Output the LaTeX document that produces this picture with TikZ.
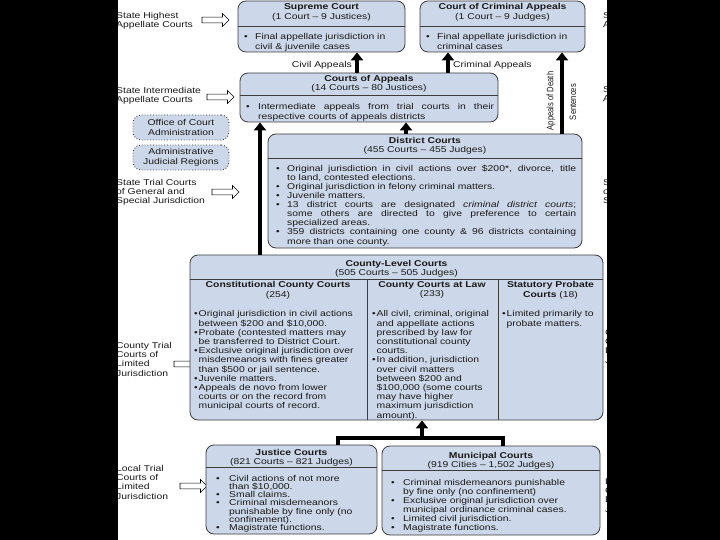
\documentclass[tikz,border=0pt]{standalone}
\usepackage{fontspec}
\setmainfont[FakeStretch=1.22]{Liberation Sans}
\newfontfamily\rotfont[FakeStretch=0.82]{Liberation Sans}
\usetikzlibrary{arrows.meta,shapes.arrows}
\definecolor{boxfill}{RGB}{204,216,233}
\definecolor{boxline}{RGB}{60,60,60}
\definecolor{txt}{RGB}{25,25,25}
\newcommand\fs[1]{\fontsize{8.5}{#1}\selectfont}
\newcommand\bu[2]{\par\noindent\hangindent=#1\hangafter=1\makebox[#1][l]{\textbullet}#2\par}
\begin{document}
\begin{tikzpicture}[x=1pt,y=-1pt,
  box/.style={draw=boxline, line width=0.8pt, fill=boxfill, rounded corners=8pt, inner sep=0pt},
  dbox/.style={box, dotted, line width=0.9pt, align=center, font=\fs{9.6}, text=txt},
  ttl/.style={font=\fs{9.6}\bfseries, align=center, inner sep=0pt, anchor=north, text=txt},
  body/.style={inner sep=0pt, anchor=north west, text=txt, font=\fs{9.4}},
  lbl/.style={inner sep=0pt, anchor=north west, align=left, text=txt, font=\fs{9.3}},
  divline/.style={draw=boxline, line width=0.8pt},
  bigarrow/.style={line width=3.6pt, -{Triangle[width=12pt,length=8pt]}},
  conn/.style={line width=3.6pt, line join=miter},
  hollow/.style={single arrow, draw=black, line width=0.6pt, fill=white, minimum height=27pt, inner xsep=0pt, inner ysep=2.6pt, single arrow head extend=3.6pt, single arrow head indent=0pt}
]
\useasboundingbox (0,0) rectangle (720,540);
\fill[black] (0,0) rectangle (720,540);
\fill[white] (118,0) rectangle (607,540);

% ---------- side labels (right copies, clipped by border) ----------
\node[lbl] (r1) at (603,12) {State Highest\\Appellate Courts};
\node[lbl] (r2) at (603,86) {State Intermediate\\Appellate Courts};
\node[lbl] (r3) at (603,179) {State Trial Courts\\of General and\\Special Jurisdiction};
\node[lbl] (r4) at (605,329) {County Trial\\Courts of\\Limited\\Jurisdiction};
\node[lbl] (r5) at (605,478) {Local Trial\\Courts of\\Limited\\Jurisdiction};

% ---------- left labels ----------
\node[lbl] (l1) at (116,12) {State Highest\\Appellate Courts};
\node[lbl] (l2) at (116,87) {State Intermediate\\Appellate Courts};
\node[lbl] (l3) at (116,179) {State Trial Courts\\of General and\\Special Jurisdiction};
\node[lbl] (l4) at (116,342) {County Trial\\Courts of\\Limited\\Jurisdiction};
\node[lbl] (l5) at (116,465) {Local Trial\\Courts of\\Limited\\Jurisdiction};
\node[hollow] (h1) at (214,20) {};
\node[hollow] (h2) at (219,97) {};
\node[hollow] (h3) at (224,192) {};
\node[hollow] (h4) at (186,364) {};
\node[hollow] (h5) at (192,486) {};

% ---------- Supreme Court ----------
\node[box, minimum width=167pt, minimum height=51pt] (sc) at (321.5,26.5) {};
\node[ttl] (sct) at (321.5,3.5) {Supreme Court\\\mdseries(1 Court -- 9 Justices)};
\draw[divline] (sc.west |- 0,26) -- (sc.east |- 0,26);
\node[body, text width=158pt, font=\fs{10}] (scb) at (244,29.5) {\raggedright\bu{11pt}{Final appellate jurisdiction in\newline civil \& juvenile cases}};

% ---------- Court of Criminal Appeals ----------
\node[box, minimum width=165pt, minimum height=51pt] (cca) at (502.5,26.5) {};
\node[ttl] (ccat) at (502.5,3.5) {Court of Criminal Appeals\\\mdseries(1 Court -- 9 Judges)};
\draw[divline] (cca.west |- 0,26) -- (cca.east |- 0,26);
\node[body, text width=158pt, font=\fs{10}] (ccab) at (426,29.5) {\raggedright\bu{11pt}{Final appellate jurisdiction in\newline criminal cases}};

% ---------- Courts of Appeals ----------
\node[box, minimum width=258pt, minimum height=49pt] (coa) at (369,97.5) {};
\node[ttl] (coat) at (369,75) {Courts of Appeals\\\mdseries(14 Courts -- 80 Justices)};
\draw[divline] (coa.west |- 0,95) -- (coa.east |- 0,95);
\node[body, text width=248pt, align=justify, font=\fs{10}] (coab) at (246,99.5) {\bu{12pt}{Intermediate appeals from trial courts in their\linebreak respective courts of appeals districts}};

% ---------- admin boxes ----------
\node[dbox, minimum width=96pt, minimum height=25pt] (oca) at (181,127.5) {Office of Court\\Administration};
\node[dbox, minimum width=96pt, minimum height=25pt] (ajr) at (181,157.5) {Administrative\\Judicial Regions};

% ---------- District Courts ----------
\node[box, minimum width=314pt, minimum height=114pt] (dc) at (425,191) {};
\node[ttl] (dct) at (425,137) {District Courts\\\mdseries(455 Courts -- 455 Judges)};
\draw[divline] (dc.west |- 0,158) -- (dc.east |- 0,158);
\node[body, text width=300pt, align=justify, font=\fs{9.1}] (dcb) at (276,162) {%
\bu{11pt}{Original jurisdiction in civil actions over \$200*, divorce, title\linebreak to land, contested elections.}%
\bu{11pt}{Original jurisdiction in felony criminal matters.}%
\bu{11pt}{Juvenile matters.}%
\bu{11pt}{13 district courts are designated \textit{criminal district courts};\linebreak some others are directed to give preference to certain\linebreak specialized areas.}%
\bu{11pt}{359 districts containing one county \& 96 districts containing\linebreak more than one county.}};

% ---------- County-Level Courts ----------
\node[box, minimum width=413pt, minimum height=165pt] (clc) at (396.5,337.5) {};
\node[ttl, font=\fs{9.2}\bfseries] (clct) at (396.5,260) {County-Level Courts\\\mdseries(505 Courts -- 505 Judges)};
\draw[divline] (clc.west |- 0,279) -- (clc.east |- 0,279);
\coordinate (cd1) at (367,279);
\coordinate (cd2) at (498,279);
\draw[divline] (cd1) -- (cd1 |- clc.south);
\draw[divline] (cd2) -- (cd2 |- clc.south);
\node[ttl, font=\fs{9.2}\bfseries] (c1t) at (278,281.5) {Constitutional County Courts\\\mdseries(254)};
\node[ttl, font=\fs{9.2}\bfseries] (c2t) at (432,281.5) {County Courts at Law\\\mdseries(233)};
\node[ttl, font=\fs{9.2}\bfseries] (c3t) at (550.5,281.5) {Statutory Probate\\Courts \mdseries(18)};
\node[body, text width=172pt, font=\fs{9.2}] (c1b) at (194,307.5) {\raggedright
\bu{4.5pt}{Original jurisdiction in civil actions\newline between \$200 and \$10,000.}%
\bu{4.5pt}{Probate (contested matters may\newline be transferred to District Court.}%
\bu{4.5pt}{Exclusive original jurisdiction over\newline misdemeanors with fines greater\newline than \$500 or jail sentence.}%
\bu{4.5pt}{Juvenile matters.}%
\bu{4.5pt}{Appeals de novo from lower\newline courts or on the record from\newline municipal courts of record.}};
\node[body, text width=125pt, font=\fs{9.2}] (c2b) at (372,307.5) {\raggedright
\bu{4.5pt}{All civil, criminal, original\newline and appellate actions\newline prescribed by law for\newline constitutional county\newline courts.}%
\bu{4.5pt}{In addition, jurisdiction\newline over civil matters\newline between \$200 and\newline \$100,000 (some courts\newline may have higher\newline maximum jurisdiction\newline amount).}};
\node[body, text width=104pt, font=\fs{9.2}] (c3b) at (502,307.5) {\raggedright
\bu{4.5pt}{Limited primarily to\newline probate matters.}};

% ---------- Justice Courts ----------
\node[box, minimum width=171pt, minimum height=89pt] (jc) at (291.5,489.5) {};
\node[ttl, font=\fs{9}\bfseries] (jct) at (291.5,449) {Justice Courts\\\mdseries(821 Courts -- 821 Judges)};
\draw[divline] (jc.west |- 0,467) -- (jc.east |- 0,467);
\node[body, text width=158pt, font=\fs{8.3}] (jcb) at (216,472.5) {\raggedright
\bu{13pt}{Civil actions of not more\newline than \$10,000.}%
\bu{13pt}{Small claims.}%
\bu{13pt}{Criminal misdemeanors\newline punishable by fine only (no\newline confinement).}%
\bu{13pt}{Magistrate functions.}};

% ---------- Municipal Courts ----------
\node[box, minimum width=218pt, minimum height=89pt] (mc) at (491,490.5) {};
\node[ttl, font=\fs{9}\bfseries] (mct) at (491,452) {Municipal Courts\\\mdseries(919 Cities -- 1,502 Judges)};
\draw[divline] (mc.west |- 0,470) -- (mc.east |- 0,470);
\node[body, text width=205pt, font=\fs{8.9}] (mcb) at (391,476.5) {\raggedright
\bu{12pt}{Criminal misdemeanors punishable\newline by fine only (no confinement)}%
\bu{12pt}{Exclusive original jurisdiction over\newline municipal ordinance criminal cases.}%
\bu{12pt}{Limited civil jurisdiction.}%
\bu{12pt}{Magistrate functions.}};

% ---------- connectors ----------
\coordinate (xciv) at (357,0);
\coordinate (xcrim) at (448,0);
\coordinate (xdeath) at (562,0);
\coordinate (xlong) at (260,0);
\coordinate (xdist) at (406,0);
\coordinate (xj) at (338,0);
\coordinate (xm) at (503,0);
\coordinate (junc) at (422,438);
\draw[bigarrow] (coa.north -| xciv) -- (sc.south -| xciv);
\draw[bigarrow] (coa.north -| xcrim) -- (cca.south -| xcrim);
\draw[bigarrow] (dc.north -| xdeath) -- (cca.south -| xdeath);
\draw[bigarrow] (clc.north -| xlong) -- (coa.south -| xlong);
\draw[bigarrow] (dc.north -| xdist) -- (coa.south -| xdist);
\draw[conn] (jc.north -| xj) |- (junc) -| (mc.north -| xm);
\draw[bigarrow] ([yshift=1.8pt]junc) -- (clc.south -| junc);

\node[inner sep=0pt, anchor=east, font=\fs{9}, text=txt] (civl) at (352,65) {Civil Appeals};
\node[inner sep=0pt, anchor=west, font=\fs{9}, text=txt] (criml) at (453,65) {Criminal Appeals};
\node[inner sep=0pt, rotate=90, font=\rotfont\fontsize{9.3}{10}\selectfont, text=txt] (dl1) at (551,101) {Appeals of Death};
\node[inner sep=0pt, rotate=90, font=\rotfont\fontsize{9.3}{10}\selectfont, text=txt] (dl2) at (573,102) {Sentences};

% ---------- black side borders on top ----------
\fill[black] (0,0) rectangle (118,540);
\fill[black] (607,0) rectangle (720,540);
\end{tikzpicture}
\end{document}
